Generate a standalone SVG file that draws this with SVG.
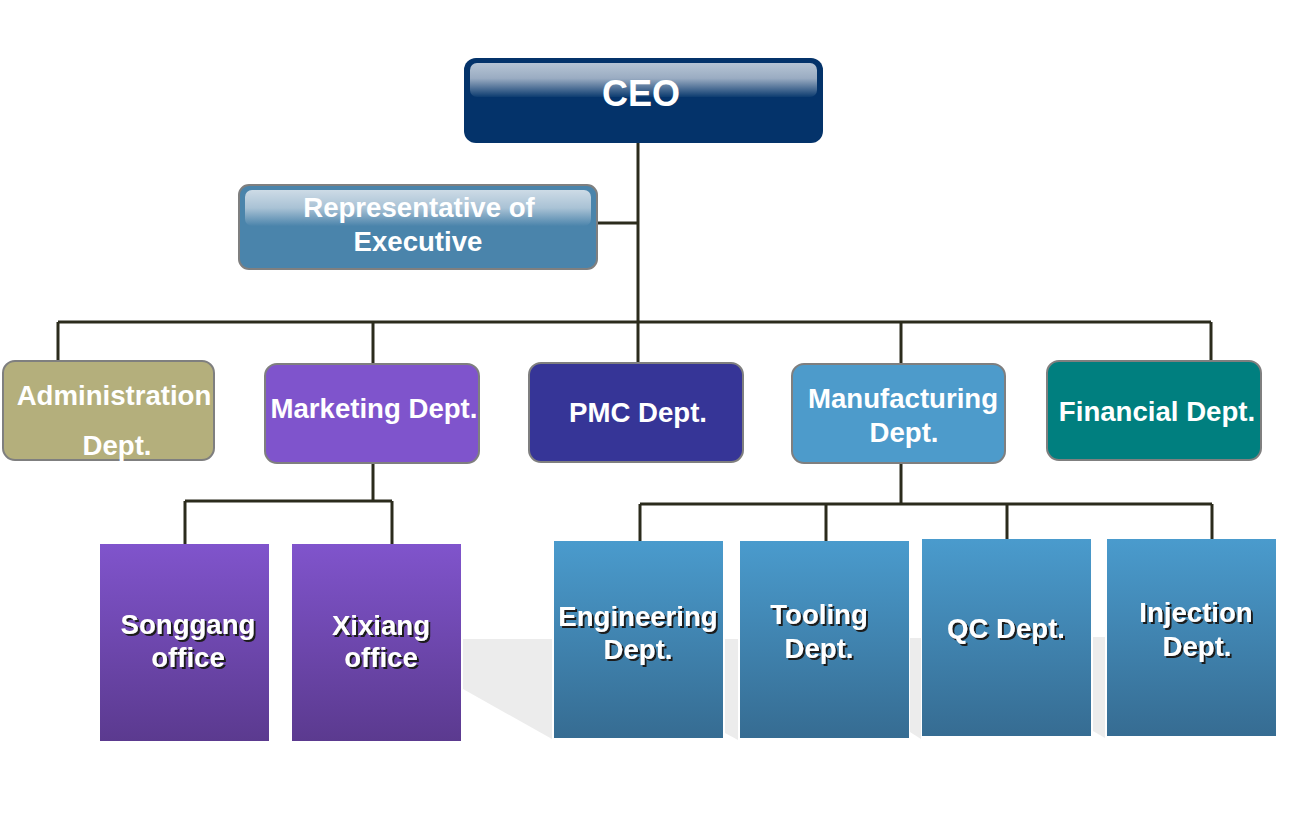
<svg xmlns="http://www.w3.org/2000/svg" width="1304" height="815" viewBox="0 0 1304 815">
<defs>
<linearGradient id="gCeo" x1="0" y1="0" x2="0" y2="1">
<stop offset="0" stop-color="#b6c4d4"/><stop offset="0.45" stop-color="#9aacc2"/><stop offset="1" stop-color="#0d3c70"/>
</linearGradient>
<linearGradient id="gRep" x1="0" y1="0" x2="0" y2="1">
<stop offset="0" stop-color="#cddbe6"/><stop offset="0.5" stop-color="#a9c2d5"/><stop offset="1" stop-color="#4b84ab"/>
</linearGradient>
<linearGradient id="gPur" x1="0" y1="0" x2="0" y2="1">
<stop offset="0" stop-color="#8054cc"/><stop offset="1" stop-color="#5b3a8f"/>
</linearGradient>
<linearGradient id="gBlu" x1="0" y1="0" x2="0" y2="1">
<stop offset="0" stop-color="#4a9bcd"/><stop offset="1" stop-color="#366c92"/>
</linearGradient>
<filter id="sh" x="-10%" y="-20%" width="130%" height="150%">
<feDropShadow dx="2" dy="2" stdDeviation="0.4" flood-color="#1a1a1a" flood-opacity="1"/>
</filter>
</defs>
<style>
.t{font-family:"Liberation Sans",Arial,sans-serif;font-weight:bold;fill:#ffffff;text-anchor:middle;font-size:27.6px}
.b{stroke:#7f7f7f;stroke-width:2}
.c{stroke:#2b2b1c;stroke-width:3;fill:none}
.gray{fill:#ececec}
</style>
<rect width="1304" height="815" fill="#ffffff"/>
<g id="reflections">
<polygon class="gray" points="463,639 552,639 552,739 463,689"/>
<polygon class="gray" points="725,639 738,639 738,740 725,733"/>
<polygon class="gray" points="910,638 921,638 921,739 910,732"/>
<polygon class="gray" points="1093,637 1105,637 1105,738 1093,731"/>
</g>
<g id="connectors">
<path class="c" d="M638,143 V362"/>
<path class="c" d="M597,223 H638"/>
<path class="c" d="M58,322 H1211"/>
<path class="c" d="M58,322 V361"/>
<path class="c" d="M373,322 V364"/>
<path class="c" d="M901,322 V364"/>
<path class="c" d="M1211,322 V362"/>
<path class="c" d="M373,463 V501"/>
<path class="c" d="M185,501 H392"/>
<path class="c" d="M185,501 V546"/>
<path class="c" d="M392,501 V544"/>
<path class="c" d="M901,463 V504"/>
<path class="c" d="M640,504 H1212"/>
<path class="c" d="M640,504 V541"/>
<path class="c" d="M826,504 V541"/>
<path class="c" d="M1007,504 V539"/>
<path class="c" d="M1212,504 V539"/>
</g>
<g id="ceo">
<rect x="464" y="58" width="359" height="85" rx="12" fill="#04336a"/>
<rect x="470" y="63" width="347" height="34" rx="7" fill="url(#gCeo)"/>
<text class="t" x="641" y="106" style="font-size:36px">CEO</text>
</g>
<g id="rep">
<rect class="b" x="239" y="185" width="358" height="84" rx="10" fill="#4a84ab"/>
<rect x="245" y="190" width="346" height="36" rx="7" fill="url(#gRep)"/>
<text class="t" x="419" y="217">Representative of</text>
<text class="t" x="418" y="251">Executive</text>
</g>
<g id="admin">
<rect class="b" x="3" y="361" width="211" height="99" rx="12" fill="#b4af7c"/>
<text class="t" x="114" y="405">Administration</text>
<text class="t" x="117" y="455">Dept.</text>
</g>
<g id="marketing">
<rect class="b" x="265" y="364" width="214" height="99" rx="12" fill="#7f54cc"/>
<text class="t" x="374" y="418">Marketing Dept.</text>
</g>
<g id="pmc">
<rect class="b" x="529" y="363" width="214" height="99" rx="12" fill="#363597"/>
<text class="t" x="638" y="422">PMC Dept.</text>
</g>
<g id="manufacturing">
<rect class="b" x="792" y="364" width="213" height="99" rx="12" fill="#4d9bcb"/>
<text class="t" x="903" y="408">Manufacturing</text>
<text class="t" x="904" y="442">Dept.</text>
</g>
<g id="financial">
<rect class="b" x="1047" y="361" width="214" height="99" rx="12" fill="#007f7f"/>
<text class="t" x="1157" y="421">Financial Dept.</text>
</g>
<g id="songgang">
<rect x="100" y="544" width="169" height="197" fill="url(#gPur)"/>
<text class="t" x="188" y="634" filter="url(#sh)">Songgang</text>
<text class="t" x="188" y="667" filter="url(#sh)">office</text>
</g>
<g id="xixiang">
<rect x="292" y="544" width="169" height="197" fill="url(#gPur)"/>
<text class="t" x="381" y="635" filter="url(#sh)">Xixiang</text>
<text class="t" x="381" y="667" filter="url(#sh)">office</text>
</g>
<g id="engineering">
<rect x="554" y="541" width="169" height="197" fill="url(#gBlu)"/>
<text class="t" x="638" y="626" filter="url(#sh)">Engineering</text>
<text class="t" x="638" y="659" filter="url(#sh)">Dept.</text>
</g>
<g id="tooling">
<rect x="740" y="541" width="169" height="197" fill="url(#gBlu)"/>
<text class="t" x="819" y="624" filter="url(#sh)">Tooling</text>
<text class="t" x="819" y="658" filter="url(#sh)">Dept.</text>
</g>
<g id="qc">
<rect x="922" y="539" width="169" height="197" fill="url(#gBlu)"/>
<text class="t" x="1006" y="638" filter="url(#sh)">QC Dept.</text>
</g>
<g id="injection">
<rect x="1107" y="539" width="169" height="197" fill="url(#gBlu)"/>
<text class="t" x="1196" y="622" filter="url(#sh)">Injection</text>
<text class="t" x="1197" y="656" filter="url(#sh)">Dept.</text>
</g>
</svg>
